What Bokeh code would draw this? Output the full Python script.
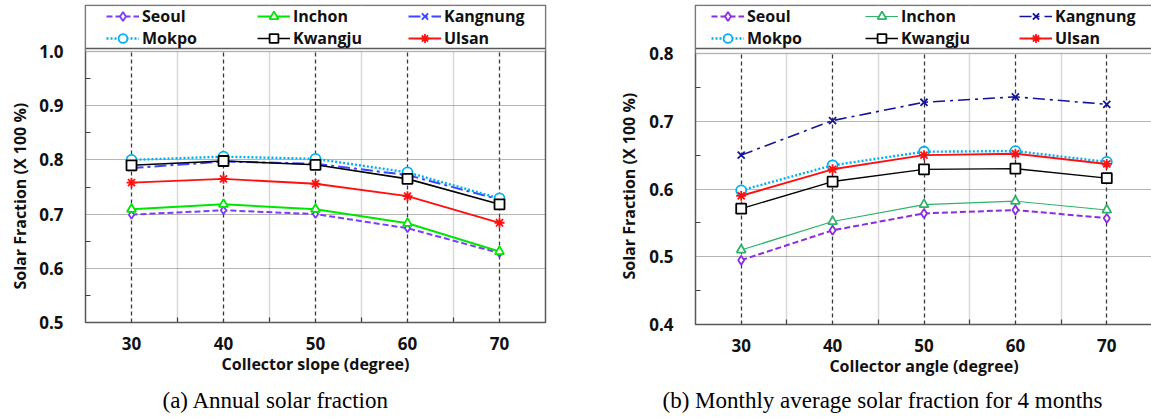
from bokeh.plotting import figure
from bokeh.layouts import row
from bokeh.models import (FixedTicker, Legend, LegendItem, BoxAnnotation, Span,
                          Range1d, Title, LinearAxis)
from bokeh.embed import file_html
from bokeh.resources import INLINE

# ---------------- data ----------------
angles = [30, 40, 50, 60, 70]
x_ticks = [30, 40, 50, 60, 70]
x_minor = [35, 45, 55, 65]
cities = ["Seoul", "Inchon", "Kangnung", "Mokpo", "Kwangju", "Ulsan"]

# (a) Annual solar fraction
annual_seoul = [0.699, 0.707, 0.700, 0.674, 0.628]
annual_inchon = [0.709, 0.718, 0.709, 0.683, 0.631]
annual_kangnung = [0.785, 0.797, 0.793, 0.772, 0.727]
annual_mokpo = [0.800, 0.806, 0.802, 0.777, 0.729]
annual_kwangju = [0.790, 0.798, 0.791, 0.765, 0.718]
annual_ulsan = [0.758, 0.765, 0.756, 0.733, 0.684]

# (b) Monthly average solar fraction for 4 months
monthly_seoul = [0.495, 0.539, 0.564, 0.569, 0.557]
monthly_inchon = [0.510, 0.552, 0.577, 0.582, 0.569]
monthly_kangnung = [0.650, 0.701, 0.728, 0.736, 0.725]
monthly_mokpo = [0.598, 0.635, 0.655, 0.656, 0.640]
monthly_kwangju = [0.571, 0.611, 0.629, 0.630, 0.616]
monthly_ulsan = [0.590, 0.629, 0.650, 0.652, 0.637]

y_ticks_a = [0.5, 0.6, 0.7, 0.8, 0.9, 1.0]
y_minor_a = [0.55, 0.65, 0.75, 0.85, 0.95]
y_ticks_b = [0.4, 0.5, 0.6, 0.7, 0.8]
y_minor_b = [0.45, 0.55, 0.65, 0.75]

y_title = "Solar Fraction (X 100 %)"
x_title_a = "Collector slope (degree)"
x_title_b = "Collector angle (degree)"
caption_a = "(a) Annual solar fraction"
caption_b = "(b) Monthly average solar fraction for 4 months"

# ---------------- styles ----------------
FONT = "Open Sans"
GRAY = "#595959"
styles_a = {
    "Seoul":    dict(color="#7B3CFF", dash="6 3", width=2.0, marker="diamond", size=8),
    "Inchon":   dict(color="#00E600", dash="solid", width=2.0, marker="triangle", size=9),
    "Kangnung": dict(color="#3C46FF", dash="12 4 3 4", width=2.0, marker="x", size=9),
    "Mokpo":    dict(color="#00B0F0", dash="2 2", width=2.4, marker="circle", size=10),
    "Kwangju":  dict(color="#000000", dash="solid", width=1.6, marker="square", size=10),
    "Ulsan":    dict(color="#FF1010", dash="solid", width=1.8, marker="asterisk", size=10),
}
styles_b = {
    "Seoul":    dict(color="#8B2BE2", dash="6 3", width=2.0, marker="diamond", size=9),
    "Inchon":   dict(color="#2DB36A", dash="solid", width=1.2, marker="triangle", size=9),
    "Kangnung": dict(color="#14149A", dash="12 5 3 5", width=1.6, marker="x", size=10),
    "Mokpo":    dict(color="#00B0F0", dash="2 2", width=2.4, marker="circle", size=10),
    "Kwangju":  dict(color="#000000", dash="solid", width=1.4, marker="square", size=10),
    "Ulsan":    dict(color="#FF1010", dash="solid", width=2.0, marker="asterisk", size=10),
}


def make_panel(series, styles, y_lo, y_top, y_ticks, y_minor, x_title, caption,
               mb_left, mb_right, frame_w, plot_h, head_px, gap_px, total_h,
               leg_x, leg_label_w, ytitle_offset, ytitle_standoff, cap_offset, cap_gap):
    # plot area of height plot_h for [y_lo, y_top]; a legend strip of head_px above it
    per_px = (y_top - y_lo) / plot_h
    y_hi = y_top + head_px * per_px
    frame_h = plot_h + head_px
    top_b = 5
    p = figure(frame_width=frame_w, frame_height=frame_h,
               x_range=Range1d(25, 75), y_range=Range1d(y_lo, y_hi),
               output_backend="svg", toolbar_location=None,
               min_border_left=mb_left, min_border_right=mb_right,
               min_border_top=top_b, min_border_bottom=total_h - top_b - frame_h)
    p.background_fill_color = "white"
    p.border_fill_color = "white"
    p.outline_line_color = GRAY
    p.outline_line_width = 1.5

    p.xaxis.ticker = FixedTicker(ticks=x_ticks, minor_ticks=x_minor)
    p.yaxis.ticker = FixedTicker(ticks=y_ticks, minor_ticks=y_minor)
    for ax in (p.xaxis[0], p.yaxis[0]):
        ax.axis_line_color = None
        ax.major_tick_in = 0
        ax.major_tick_out = 0
        ax.minor_tick_in = 5
        ax.minor_tick_out = 0
        ax.minor_tick_line_color = "#404040"
        ax.minor_tick_line_width = 1.2
        ax.major_label_text_font = FONT
        ax.major_label_text_font_style = "bold"
        ax.major_label_text_font_size = "17px"
        ax.major_label_text_color = "#111111"
        ax.axis_label_text_font = FONT
        ax.axis_label_text_font_style = "bold"
        ax.axis_label_text_font_size = "16px"
        ax.axis_label_text_color = "#111111"
    p.xaxis.major_label_standoff = 14
    p.xaxis.axis_label_standoff = 0
    p.yaxis.major_label_standoff = 22
    p.yaxis.major_label_overrides = {t: f"{t:.1f}" for t in y_ticks}
    p.xaxis.axis_label = x_title

    p.add_layout(Title(text=y_title, align="left", offset=ytitle_offset,
                       vertical_align="bottom", standoff=ytitle_standoff,
                       text_font=FONT, text_font_style="bold",
                       text_font_size="16px", text_color="#111111"), "left")

    p.xgrid.grid_line_color = "#3a3a3a"
    p.xgrid.grid_line_dash = "4 3"
    p.xgrid.grid_line_width = 1.3
    p.xgrid.minor_grid_line_color = "#d9d9d9"
    p.xgrid.minor_grid_line_width = 1.5
    p.ygrid.grid_line_color = "#6a6a6a"
    p.ygrid.grid_line_dash = "1 1"
    p.ygrid.grid_line_width = 1.2

    items = []
    for name in cities:
        st = styles[name]
        ln = p.line(angles, series[name], line_color=st["color"],
                    line_dash=st["dash"], line_width=st["width"])
        sc = p.scatter(angles, series[name], marker=st["marker"], size=st["size"],
                       line_color=st["color"], fill_color="white",
                       line_width=1.8)
        items.append(LegendItem(label=name, renderers=[ln, sc]))

    # legend strip: white box above the plot area, bordered like the reference
    p.add_layout(BoxAnnotation(bottom=y_top, fill_color="white", fill_alpha=1.0,
                               line_color=GRAY, line_width=1.5))
    p.add_layout(Span(location=y_top + gap_px * per_px, dimension="width",
                      line_color=GRAY, line_width=1.5))

    row_h = 22
    leg = Legend(items=items, location=(leg_x, plot_h + head_px - 2 * row_h),
                 orientation="horizontal", ncols=3,
                 glyph_width=33, glyph_height=row_h, label_height=row_h,
                 label_width=leg_label_w, label_standoff=3,
                 padding=0, spacing=0, margin=0,
                 border_line_alpha=0, background_fill_alpha=0,
                 label_text_font=FONT, label_text_font_style="bold",
                 label_text_font_size="16px", label_text_color="#111111")
    p.add_layout(leg, "center")

    # label-less axis used only as vertical space between the axis title and the caption
    spacer = LinearAxis(ticker=FixedTicker(ticks=[25], minor_ticks=[]),
                        axis_line_color=None,
                        major_tick_line_color=None, minor_tick_line_color=None,
                        major_tick_out=cap_gap, minor_tick_out=0, major_tick_in=0,
                        major_label_standoff=0, major_label_overrides={25: ""},
                        major_label_text_font_size="1px", major_label_text_alpha=0)
    p.add_layout(spacer, "below")

    p.add_layout(Title(text=caption, align="left", offset=cap_offset,
                       vertical_align="top", standoff=4,
                       text_font="Liberation Serif", text_font_style="normal",
                       text_font_size="23px", text_color="#000000"), "below")
    return p


series_a = dict(zip(cities, [annual_seoul, annual_inchon, annual_kangnung,
                             annual_mokpo, annual_kwangju, annual_ulsan]))
series_b = dict(zip(cities, [monthly_seoul, monthly_inchon, monthly_kangnung,
                             monthly_mokpo, monthly_kwangju, monthly_ulsan]))

TOTAL_H = 420
p1 = make_panel(series_a, styles_a, 0.5, 1.0, y_ticks_a, y_minor_a, x_title_a, caption_a,
                mb_left=81, mb_right=49, frame_w=460, plot_h=271, head_px=46, gap_px=3,
                total_h=TOTAL_H, leg_x=21, leg_label_w=115,
                ytitle_offset=33, ytitle_standoff=12, cap_offset=77, cap_gap=8)
p2 = make_panel(series_b, styles_b, 0.4, 0.8, y_ticks_b, y_minor_b, x_title_b, caption_b,
                mb_left=101, mb_right=3, frame_w=457, plot_h=271, head_px=48, gap_px=5,
                total_h=TOTAL_H, leg_x=16, leg_label_w=118,
                ytitle_offset=45, ytitle_standoff=14, cap_offset=-33, cap_gap=6)

layout = row(p1, p2)
open("out.html", "w").write(file_html(layout, INLINE))
